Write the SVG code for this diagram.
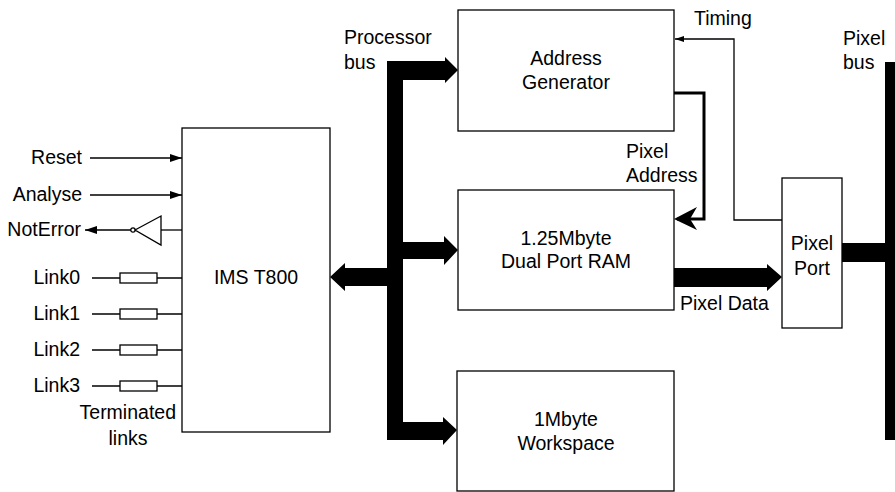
<svg xmlns="http://www.w3.org/2000/svg" width="895" height="492" viewBox="0 0 895 492">
<style>
text{font-family:"Liberation Sans",Arial,sans-serif;font-size:19.5px;fill:#000}
.c{text-anchor:middle}
.e{text-anchor:end}
.box{fill:#fff;stroke:#000;stroke-width:1.3}
.thin{fill:none;stroke:#000;stroke-width:1.3}
.bus{fill:#000;stroke:none}
</style>
<defs>
<marker id="ah" markerWidth="12" markerHeight="8" refX="12" refY="4" orient="auto" markerUnits="userSpaceOnUse">
<path d="M0,0 L12,4 L0,8 Z" fill="#000"/>
</marker>
<marker id="ahs" markerWidth="9" markerHeight="6" refX="9" refY="3" orient="auto" markerUnits="userSpaceOnUse">
<path d="M0,0 L9,3 L0,6 Z" fill="#000"/>
</marker>
</defs>
<rect width="895" height="492" fill="#fff"/>

<g id="connectors">
<!-- processor bus -->
<path class="bus" d="M387,61 H445 V57 L458,70 L445,83 V80 H403 V242 H444 V236 L458,250 L444,265 V259 H403 V422 H443 V417 L457,430 L443,445 V440 H387 V286 H345 V291 L330,277 L345,263 V268 H387 Z"/>
<!-- pixel data -->
<path class="bus" d="M674,268 H767 V264 L782,277 L767,291 V287 H674 Z"/>
<!-- pixel bus -->
<rect class="bus" x="885" y="62" width="10" height="378"/>
<rect class="bus" x="842" y="243" width="43" height="19"/>
<!-- pixel address -->
<path d="M674,93 H704 V219 H677" fill="none" stroke="#000" stroke-width="3"/>
<path d="M674,219 L697,207 L690,219 L697,230 Z" fill="#000"/>
<!-- timing -->
<path class="thin" d="M782,220 H734 V39 H675" marker-end="url(#ahs)"/>
<!-- left signals -->
<line class="thin" x1="90" y1="158" x2="182" y2="158" marker-end="url(#ah)"/>
<line class="thin" x1="90" y1="195" x2="182" y2="195" marker-end="url(#ah)"/>
<line class="thin" x1="131" y1="230" x2="85" y2="230" marker-end="url(#ah)"/>
<circle cx="133" cy="230" r="2.2" fill="#fff" stroke="#000" stroke-width="1.2"/>
<path class="thin" d="M135,230 L161,216 V245 Z"/>
<line class="thin" x1="161" y1="230" x2="182" y2="230"/>
<g id="links">
<line class="thin" x1="92" y1="278" x2="182" y2="278"/>
<rect class="box" x="120" y="273" width="37" height="10"/>
<line class="thin" x1="92" y1="314" x2="182" y2="314"/>
<rect class="box" x="120" y="309" width="37" height="10"/>
<line class="thin" x1="92" y1="350" x2="182" y2="350"/>
<rect class="box" x="120" y="345" width="37" height="10"/>
<line class="thin" x1="92" y1="386" x2="182" y2="386"/>
<rect class="box" x="120" y="381" width="37" height="10"/>
</g>
</g>

<g id="t800">
<rect class="box" x="182" y="128" width="148" height="304"/>
<text class="c" x="256" y="284">IMS T800</text>
</g>
<g id="addrgen">
<rect class="box" x="458" y="10" width="216" height="121"/>
<text class="c" x="566" y="65">Address</text>
<text class="c" x="566" y="89">Generator</text>
</g>
<g id="ram">
<rect class="box" x="458" y="190" width="216" height="120"/>
<text class="c" x="566" y="245">1.25Mbyte</text>
<text class="c" x="566" y="268">Dual Port RAM</text>
</g>
<g id="workspace">
<rect class="box" x="457" y="371" width="217" height="120"/>
<text class="c" x="566" y="426">1Mbyte</text>
<text class="c" x="566" y="450">Workspace</text>
</g>
<g id="pixelport">
<rect class="box" x="782" y="178" width="60" height="150"/>
<text class="c" x="812" y="250">Pixel</text>
<text class="c" x="812" y="275">Port</text>
</g>

<g id="labels">
<text x="344" y="44">Processor</text>
<text x="344" y="69">bus</text>
<text x="694" y="25">Timing</text>
<text x="843" y="45">Pixel</text>
<text x="843" y="69">bus</text>
<text x="626" y="158">Pixel</text>
<text x="626" y="182">Address</text>
<text x="680" y="310">Pixel Data</text>
<text class="e" x="82" y="164">Reset</text>
<text class="e" x="82" y="201">Analyse</text>
<text class="e" x="81" y="236">NotError</text>
<text class="e" x="80" y="284">Link0</text>
<text class="e" x="80" y="320">Link1</text>
<text class="e" x="80" y="356">Link2</text>
<text class="e" x="80" y="392">Link3</text>
<text class="e" x="176" y="419">Terminated</text>
<text class="c" x="128" y="445">links</text>
</g>
</svg>
